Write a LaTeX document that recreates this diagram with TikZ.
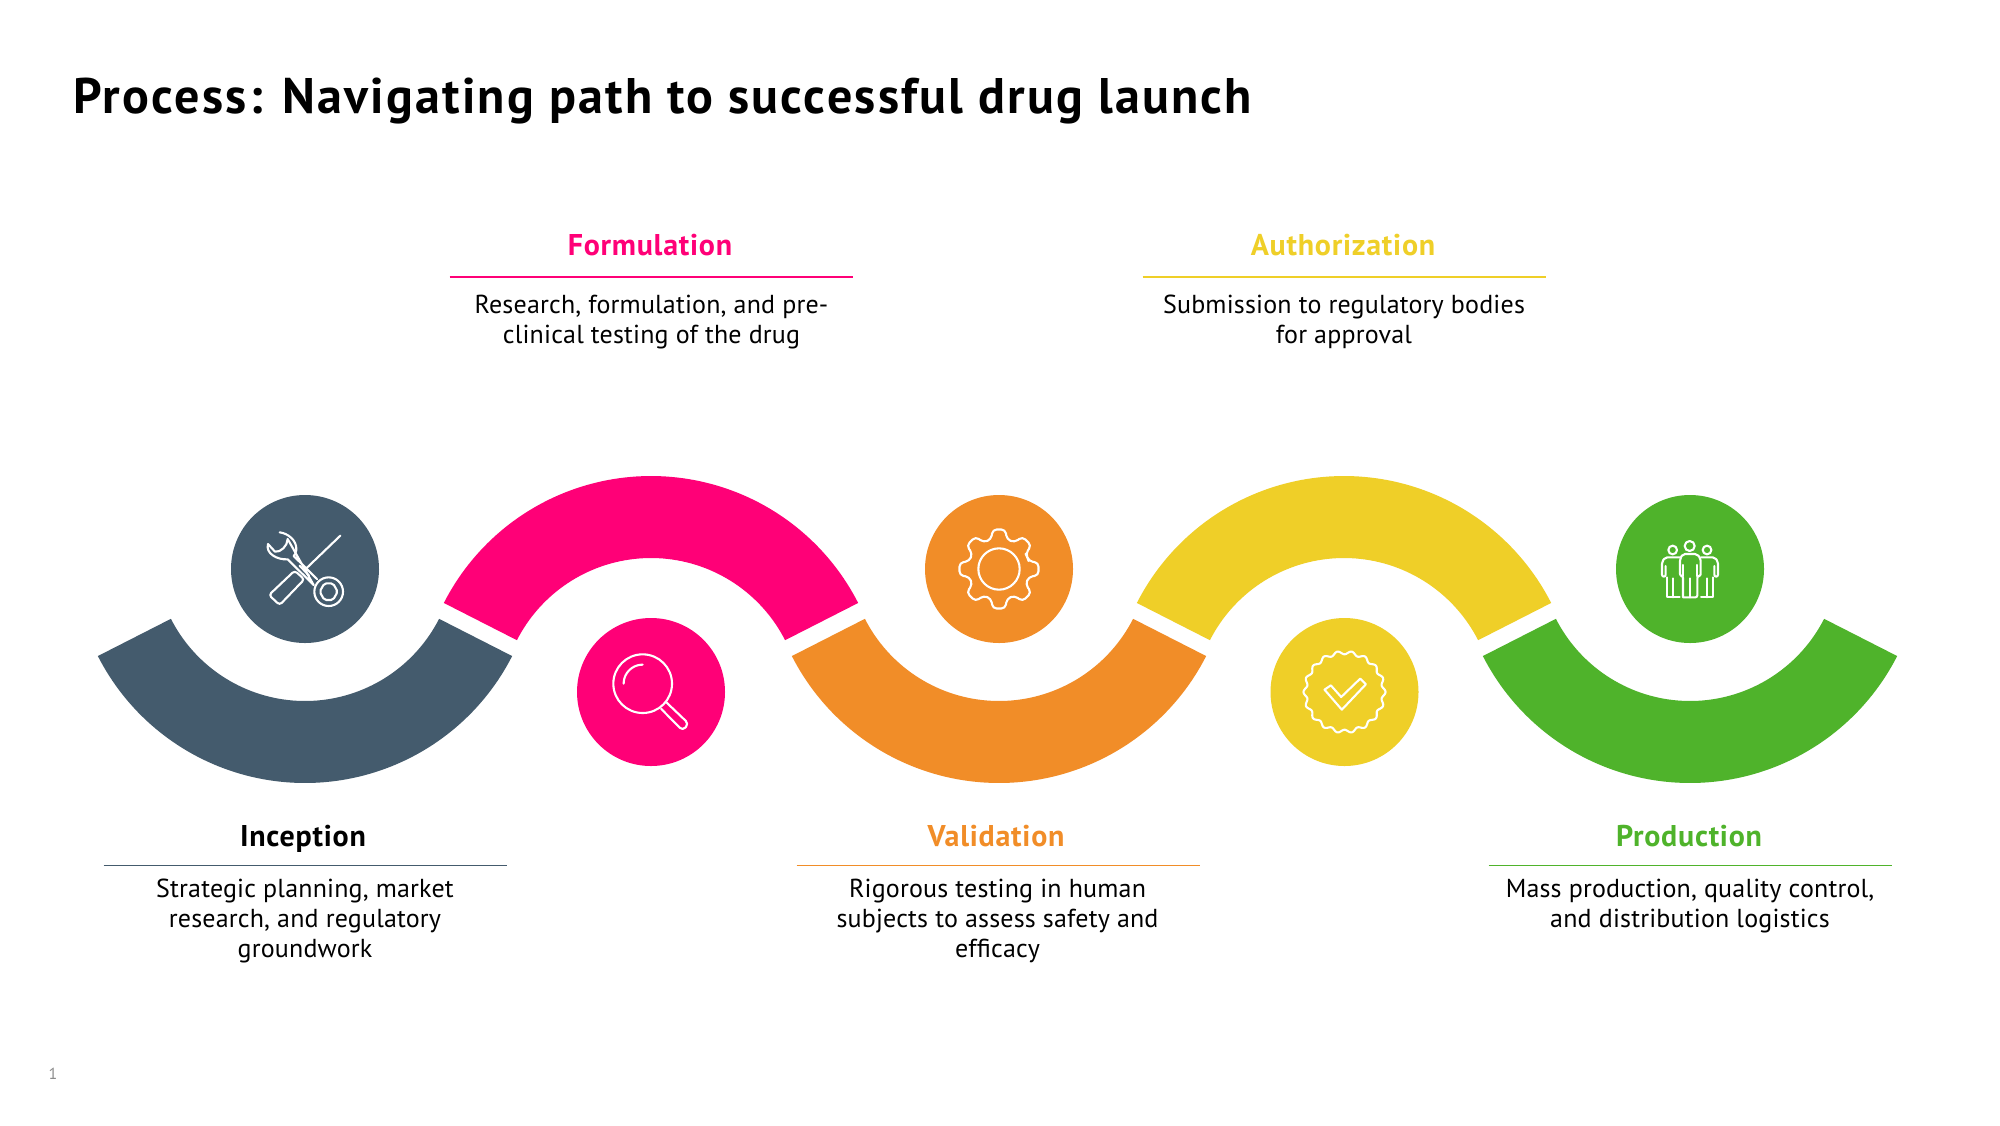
\documentclass[tikz,border=0pt]{standalone}
\usepackage{fontspec}
\setmainfont{PT Sans}
\definecolor{cSlate}{HTML}{445B6D}
\definecolor{cPink}{HTML}{FF0077}
\definecolor{cOrange}{HTML}{F18D28}
\definecolor{cYellow}{HTML}{EFCF28}
\definecolor{cGreen}{HTML}{4FB32B}
\tikzset{
  disc/.style={circle,minimum size=74pt,inner sep=0pt,outer sep=0pt},
  heading/.style={anchor=base,inner sep=0pt,font=\fontsize{15}{18}\selectfont\bfseries\addfontfeature{LetterSpace=2.5}},
  body/.style={anchor=north,inner sep=0pt,align=center,font=\fontsize{13}{15}\selectfont\addfontfeature{LetterSpace=0.7}},
  rulebar/.style={line width=0.75pt},
  icon/.style={draw=white,line width=1.05pt,line join=round,line cap=round},
}
% #1 centre x, #2 centre y, #3 sign (+1 lower bowl, -1 upper arch), #4 colour
\newcommand{\bandarc}[4]{%
  \fill[#4] plot[domain=27:153,samples=90] ({#1+232.5*cos(\x)},{#2+#3*232.5*sin(\x)})
    -- plot[domain=153:27,samples=70] ({#1+150.5*cos(\x)},{#2+#3*150.5*sin(\x)}) -- cycle;}
\begin{document}
\begin{tikzpicture}[x=0.5pt,y=-0.5pt]
\useasboundingbox (0,0) rectangle (2000,1125);
\fill[white] (0,0) rectangle (2000,1125);

\node[anchor=base west,inner sep=0pt,font=\fontsize{25}{30}\selectfont\bfseries\addfontfeature{LetterSpace=4.5}] (title) at (73,113) {Process: Navigating path to successful drug launch};
\node[anchor=base,inner sep=0pt,text=black!45,font=\fontsize{8}{9}\selectfont] (pagenum) at (53,1079) {1};

% bands
\bandarc{305}{550.5}{1}{cSlate}
\bandarc{651}{708.5}{-1}{cPink}
\bandarc{999}{550.5}{1}{cOrange}
\bandarc{1344}{708.5}{-1}{cYellow}
\bandarc{1690}{550.5}{1}{cGreen}

% discs
\node[disc,fill=cSlate] (d1) at (305,569) {};
\node[disc,fill=cPink] (d2) at (651,692) {};
\node[disc,fill=cOrange] (d3) at (999,569) {};
\node[disc,fill=cYellow] (d4) at (1344.5,692) {};
\node[disc,fill=cGreen] (d5) at (1690,569) {};

% icon: tools
\begin{scope}[shift={(d1.center)},x=0.1667pt,y=-0.1667pt,icon]
  \draw[shift={(-314,-297)}]
    (238,187) .. controls (262,190) and (290,210) .. (288,240) .. controls (287,250) and (283,255) .. (280,258)
    -- (350,327) (340,345) -- (262,268) .. controls (230,270) and (195,250) .. (203,222)
    -- (224,245) .. controls (240,248) and (262,228) .. (262,207) -- cycle;
  \draw[shift={(-314,-297)}] (385,365) circle[radius=43];
  \draw[shift={(-314,-297)},rounded corners=1pt] (412,365) -- (398,390) -- (372,390) -- (358,365) -- (372,340) -- (398,340) -- cycle;
  \draw[shift={(-314,-297)}] (420,197) -- (318,295);
  \draw[shift={(-314,-297)},rounded corners=1.5pt] (283,302) -- (312,328) -- (238,405) -- (206,375) -- cycle;
  \draw[shift={(-314,-297)}] (298,287) -- (326,317);
\end{scope}

% icon: magnifier
\begin{scope}[shift={(d2.center)},x=0.1667pt,y=-0.1667pt,icon]
  \draw (-25,-25) circle[radius=88];
  \draw plot[domain=180:270,samples=20] ({-25+57*cos(\x)},{-25+57*sin(\x)});
  \draw[rounded corners=2pt] (45,30) -- (113,95) -- (95,116) -- (30,50);
\end{scope}

% icon: gear
\begin{scope}[shift={(d3.center)},x=0.1667pt,y=-0.1667pt,icon]
  \draw[rounded corners=2pt] (-22.5:92) \foreach \a in {0,45,...,315} { -- (\a-15:92) -- (\a-9:120) -- (\a+9:120) -- (\a+15:92) } -- cycle;
  \draw (0,0) circle[radius=62];
\end{scope}

% icon: badge with check
\begin{scope}[shift={(d4.center)},x=0.1667pt,y=-0.1667pt,icon]
  \draw plot[domain=0:360,samples=241,smooth] ({(118+5*cos(18*\x))*cos(\x)},{(118+5*cos(18*\x))*sin(\x)}) -- cycle;
  \draw (-60,-7) -- (-41,-20) -- (-10,15) -- (47,-40) -- (64,-23) -- (-8,53) -- cycle;
\end{scope}

% icon: people
\begin{scope}[shift={(d5.center)},x=0.1667pt,y=-0.1667pt,icon]
  \begin{scope}[shift={(-271,-267)}]
  \draw (270,198) circle[radius=15];
  \draw (219,210) circle[radius=13];
  \draw (322,210) circle[radius=13];
  \draw[rounded corners=1pt] (250,352) -- (250,288) -- (241,288) -- (241,236) -- (250,222) -- (292,222) -- (303,236) -- (303,288) -- (293,288) -- (293,352) -- (250,352);
  \draw (250,288) -- (250,255) (293,288) -- (293,255) (272,295) -- (272,352);
  \draw[rounded corners=1pt] (240,232) -- (197,232) -- (187,245) -- (187,290) -- (198,290) -- (198,258);
  \draw (201,292) -- (201,352) -- (240,352) (220,295) -- (220,352);
  \draw[rounded corners=1pt] (304,232) -- (345,232) -- (355,245) -- (355,290) -- (344,290) -- (344,258);
  \draw (341,292) -- (341,352) -- (304,352) (322,295) -- (322,352);
  \end{scope}
\end{scope}

% labels
\node[heading,text=cPink] (h2) at (650,255) {Formulation};
\coordinate (r2a) at (449.5,276.8); \coordinate (r2b) at (852.5,276.8);
\draw[rulebar,draw=cPink] (r2a) -- (r2b);
\node[body] (b2) at (651.5,295) {Research, formulation, and pre-\\clinical testing of the drug};

\node[heading,text=cYellow] (h4) at (1343,255) {Authorization};
\coordinate (r4a) at (1142.5,276.8); \coordinate (r4b) at (1545.5,276.8);
\draw[rulebar,draw=cYellow] (r4a) -- (r4b);
\node[body] (b4) at (1344,295) {Submission to regulatory bodies\\for approval};

\node[heading,text=black] (h1) at (303,846) {Inception};
\coordinate (r1a) at (103.5,865.4); \coordinate (r1b) at (506.5,865.4);
\draw[rulebar,draw=cSlate] (r1a) -- (r1b);
\node[body] (b1) at (305,879) {Strategic planning, market\\research, and regulatory\\groundwork};

\node[heading,text=cOrange] (h3) at (996,846) {Validation};
\coordinate (r3a) at (796.5,865.4); \coordinate (r3b) at (1199.5,865.4);
\draw[rulebar,draw=cOrange] (r3a) -- (r3b);
\node[body] (b3) at (997.5,879) {Rigorous testing in human\\subjects to assess safety and\\efficacy};

\node[heading,text=cGreen] (h5) at (1689,846) {Production};
\coordinate (r5a) at (1488.5,865.4); \coordinate (r5b) at (1891.5,865.4);
\draw[rulebar,draw=cGreen] (r5a) -- (r5b);
\node[body] (b5) at (1690,879) {Mass production, quality control,\\and distribution logistics};
\end{tikzpicture}
\end{document}
